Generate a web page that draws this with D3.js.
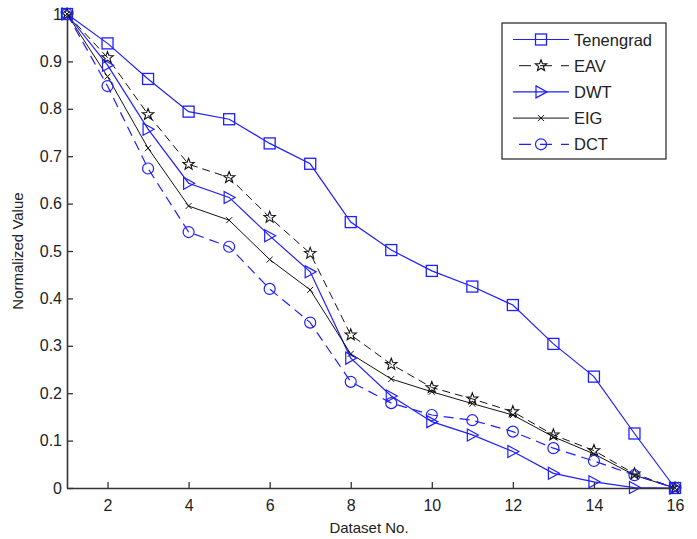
<!DOCTYPE html>
<html>
<head>
<meta charset="utf-8">
<script src="https://cdn.jsdelivr.net/npm/d3@7"></script>
<style>
  body { margin: 0; background: #fff; }
  text { font-family: "Liberation Sans", Arial, sans-serif; fill: #222; }
</style>
</head>
<body>
<div id="chart"></div>
<script>
var width = 697,
    height = 539;

var margin = {top: 14, right: 22, bottom: 51, left: 67};

// dataset numbers and normalized values per method
var datasets = d3.range(1, 17);
var tenengrad = [1, 0.938, 0.863, 0.794, 0.778, 0.727, 0.684, 0.561, 0.502, 0.458, 0.425, 0.386, 0.304, 0.235, 0.115, 0];
var eav       = [1, 0.908, 0.788, 0.683, 0.655, 0.571, 0.495, 0.323, 0.261, 0.212, 0.188, 0.161, 0.112, 0.079, 0.030, 0];
var dwt       = [1, 0.892, 0.757, 0.643, 0.613, 0.532, 0.456, 0.274, 0.194, 0.140, 0.112, 0.077, 0.031, 0.013, 0.001, 0];
var eig       = [1, 0.868, 0.717, 0.595, 0.565, 0.482, 0.418, 0.283, 0.230, 0.203, 0.178, 0.154, 0.108, 0.072, 0.027, 0];
var dct       = [1, 0.848, 0.674, 0.540, 0.509, 0.420, 0.349, 0.224, 0.179, 0.154, 0.143, 0.119, 0.084, 0.057, 0.027, 0];

var xTicks = [2, 4, 6, 8, 10, 12, 14, 16];
var yTicks = d3.range(0, 11).map(function(i) { return i / 10; });

var blue = "#1f1fff";

var series = [
  {name: "Tenengrad", values: tenengrad, color: blue,   dash: null,  marker: "square", width: 1.2},
  {name: "EAV",       values: eav,       color: "#111", dash: "8,5", marker: "star",   width: 1},
  {name: "DWT",       values: dwt,       color: blue,   dash: null,  marker: "tri",    width: 1.2},
  {name: "EIG",       values: eig,       color: "#111", dash: null,  marker: "cross",  width: 1},
  {name: "DCT",       values: dct,       color: blue,   dash: "10,6", marker: "circle", width: 1.2}
];

var x = d3.scaleLinear().domain([1, 16]).range([margin.left, width - margin.right]);
var y = d3.scaleLinear().domain([0, 1]).range([height - margin.bottom, margin.top]);

var svg = d3.select("#chart").append("svg")
    .attr("width", width)
    .attr("height", height);

var line = d3.line()
    .x(function(d, i) { return x(datasets[i]); })
    .y(function(d) { return y(d); });

function starPath(r) {
  var pts = [];
  for (var k = 0; k < 10; k++) {
    var a = -Math.PI / 2 + k * Math.PI / 5;
    var rr = k % 2 === 0 ? r : r * 0.42;
    pts.push([rr * Math.cos(a), rr * Math.sin(a)]);
  }
  return "M" + pts.join("L") + "Z";
}

function drawMarker(g, type, color) {
  if (type === "square") {
    g.append("rect").attr("x", -5.5).attr("y", -5.5).attr("width", 11).attr("height", 11)
      .attr("fill", "none").attr("stroke", color).attr("stroke-width", 1.3);
  } else if (type === "star") {
    g.append("path").attr("d", starPath(6)).attr("fill", "none")
      .attr("stroke", color).attr("stroke-width", 1.1);
  } else if (type === "tri") {
    g.append("path").attr("d", "M-5,-6L6,0L-5,6Z").attr("fill", "none")
      .attr("stroke", color).attr("stroke-width", 1.2);
  } else if (type === "cross") {
    g.append("path").attr("d", "M-3,-3L3,3M-3,3L3,-3").attr("fill", "none")
      .attr("stroke", color).attr("stroke-width", 1);
  } else if (type === "circle") {
    g.append("circle").attr("r", 5.5).attr("fill", "none")
      .attr("stroke", color).attr("stroke-width", 1.2);
  }
}

// lines
series.forEach(function(s) {
  svg.append("path")
    .datum(s.values)
    .attr("fill", "none")
    .attr("stroke", s.color)
    .attr("stroke-width", s.width)
    .attr("stroke-dasharray", s.dash)
    .attr("d", line);
});

// markers
series.forEach(function(s) {
  s.values.forEach(function(v, i) {
    var g = svg.append("g").attr("transform", "translate(" + x(datasets[i]) + "," + y(v) + ")");
    drawMarker(g, s.marker, s.color);
  });
});

// axes
var xAxis = d3.axisBottom(x).tickValues(xTicks).tickSizeInner(-6).tickSizeOuter(0).tickPadding(12);
var yAxis = d3.axisLeft(y).tickValues(yTicks).tickSizeInner(-6).tickSizeOuter(0).tickPadding(5)
    .tickFormat(function(d) { return d === 0 ? "0" : d === 1 ? "1" : d3.format(".1f")(d); });

var gx = svg.append("g").attr("transform", "translate(0," + y(0) + ")").call(xAxis);
var gy = svg.append("g").attr("transform", "translate(" + x(1) + ",0)").call(yAxis);

[gx, gy].forEach(function(g) {
  g.select(".domain").attr("stroke", "#333").attr("stroke-width", 1.6);
  g.selectAll(".tick line").attr("stroke", "#333").attr("stroke-width", 1.3);
  g.selectAll(".tick text").attr("font-size", 16).attr("fill", "#222")
    .attr("font-family", "'Liberation Sans', Arial, sans-serif");
});

svg.append("text")
  .attr("x", (x(1) + x(16)) / 2 - 2)
  .attr("y", height - 6)
  .attr("text-anchor", "middle")
  .attr("font-size", 15)
  .text("Dataset No.");

svg.append("text")
  .attr("transform", "translate(23," + y(0.5) + ") rotate(-90)")
  .attr("text-anchor", "middle")
  .attr("font-size", 15)
  .text("Normalized Value");

// legend
var legend = svg.append("g").attr("transform", "translate(502,23)");
legend.append("rect")
  .attr("width", 164).attr("height", 136)
  .attr("fill", "#fff").attr("stroke", "#222").attr("stroke-width", 1.2);

series.forEach(function(s, i) {
  var ly = 16.5 + i * 26.2;
  legend.append("line")
    .attr("x1", 11).attr("x2", 67).attr("y1", ly).attr("y2", ly)
    .attr("stroke", s.color).attr("stroke-width", s.width)
    .attr("stroke-dasharray", s.dash ? "12,9" : null)
    .attr("stroke-dashoffset", s.dash ? -6 : null);
  var g = legend.append("g").attr("transform", "translate(39," + ly + ")");
  drawMarker(g, s.marker, s.color);
  legend.append("text")
    .attr("x", 72).attr("y", ly + 6)
    .attr("font-size", 16.5)
    .text(s.name);
});
</script>
</body>
</html>
